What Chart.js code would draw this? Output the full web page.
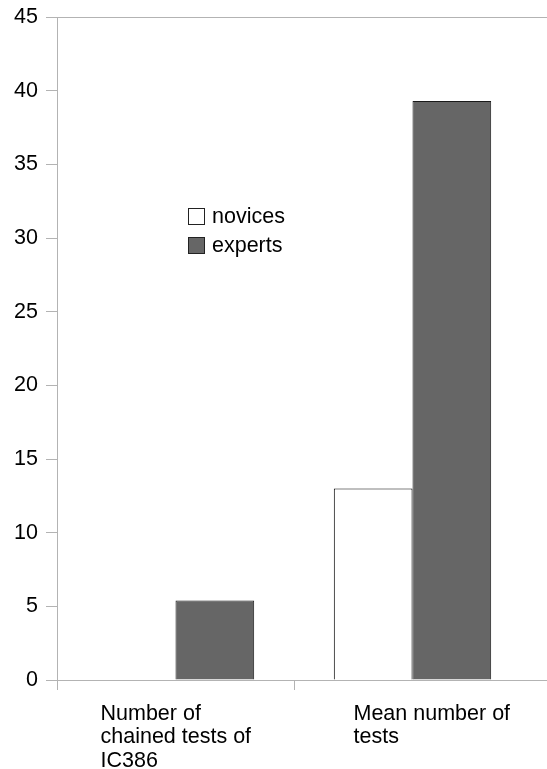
<!DOCTYPE html>
<html>
<head>
<meta charset="utf-8">
<script src="https://cdn.jsdelivr.net/npm/chart.js@4.4.0/dist/chart.umd.min.js"></script>
<style>
  body { margin: 0; background: #fff; }
  #wrap { width: 547px; height: 769px; }
</style>
</head>
<body>
<div id="wrap"><canvas id="chart" width="547" height="769"></canvas></div>
<script>
// chart data
const categories = [
  ["Number of", "chained tests of", "IC386"],
  ["Mean number of", "tests"],
];
const seriesNames = ["novices", "experts"];
const novices = [0, 13];
const experts = [5.4, 39.3];
const yTicks = [0, 5, 10, 15, 20, 25, 30, 35, 40, 45];

const axisGray = "#b3b3b3";
const fontFamily = "'Liberation Sans', Arial, sans-serif";
const font = "21.5px " + fontFamily;
// where each label block starts, measured from its category centre
const labelShift = [-75, -59];

// draws the top and bottom frame lines out to the canvas edge
const frameLines = {
  id: "frameLines",
  afterDraw(chart) {
    const { ctx, chartArea, scales } = chart;
    ctx.save();
    ctx.strokeStyle = axisGray;
    ctx.lineWidth = 1;
    [yTicks[0], yTicks[yTicks.length - 1]].forEach((v) => {
      const y = Math.round(scales.y.getPixelForValue(v)) + 0.5;
      ctx.beginPath();
      ctx.moveTo(chartArea.left, y);
      ctx.lineTo(chart.width, y);
      ctx.stroke();
    });
    ctx.restore();
  },
};

// category labels, lines left aligned
const catLabels = {
  id: "catLabels",
  afterDraw(chart) {
    const { ctx, scales } = chart;
    ctx.save();
    ctx.font = font;
    ctx.fillStyle = "#000";
    ctx.textAlign = "left";
    ctx.textBaseline = "middle";
    categories.forEach((lines, i) => {
      const x = scales.x.getPixelForValue(i) + labelShift[i];
      lines.forEach((line, j) => {
        ctx.fillText(line, x, scales.y.bottom + 34 + j * 23.5);
      });
    });
    ctx.restore();
  },
};

// legend inside the plot
const innerLegend = {
  id: "innerLegend",
  afterDraw(chart) {
    const { ctx, chartArea } = chart;
    ctx.save();
    ctx.font = font;
    ctx.textBaseline = "middle";
    chart.data.datasets.forEach((ds, i) => {
      const x = chartArea.left + 131;
      const y = chartArea.top + 191 + i * 29;
      ctx.fillStyle = ds.backgroundColor;
      ctx.strokeStyle = "#222";
      ctx.lineWidth = 1;
      ctx.fillRect(x + 0.5, y + 0.5, 16, 16);
      ctx.strokeRect(x + 0.5, y + 0.5, 16, 16);
      ctx.fillStyle = "#000";
      ctx.fillText(ds.label, x + 24, y + 9);
    });
    ctx.restore();
  },
};

new Chart(document.getElementById("chart"), {
  type: "bar",
  data: {
    labels: categories.map((c) => c.join(" ")),
    datasets: [
      {
        label: seriesNames[0],
        data: novices,
        backgroundColor: "#ffffff",
        borderColor: "#000000",
        borderWidth: 1,
      },
      {
        label: seriesNames[1],
        data: experts,
        backgroundColor: "#666666",
        borderColor: "#1a1a1a",
        borderWidth: 1,
      },
    ],
  },
  options: {
    responsive: false,
    animation: false,
    devicePixelRatio: 1,
    layout: { padding: { top: 17, right: 16, left: 0, bottom: 0 } },
    plugins: { legend: { display: false }, tooltip: { enabled: false } },
    datasets: { bar: { categoryPercentage: 0.664, barPercentage: 1 } },
    scales: {
      x: {
        ticks: { display: false },
        grid: {
          offset: true,
          drawOnChartArea: false,
          tickLength: 10,
          color: (c) => (c.tick ? axisGray : "rgba(0,0,0,0)"),
        },
        border: { display: false },
        afterFit(scale) {
          scale.height = 89;
        },
      },
      y: {
        min: 0,
        max: 45,
        afterBuildTicks(scale) {
          scale.ticks = yTicks.map((v) => ({ value: v }));
        },
        ticks: {
          color: "#000",
          font: { family: fontFamily, size: 21.5 },
          padding: 8,
        },
        grid: { drawOnChartArea: false, tickLength: 11, color: axisGray },
        border: { display: true, color: axisGray },
        afterFit(scale) {
          scale.width = 57;
          scale.paddingTop = 0;
          scale.paddingBottom = 0;
        },
      },
    },
  },
  plugins: [frameLines, catLabels, innerLegend],
});
</script>
</body>
</html>
